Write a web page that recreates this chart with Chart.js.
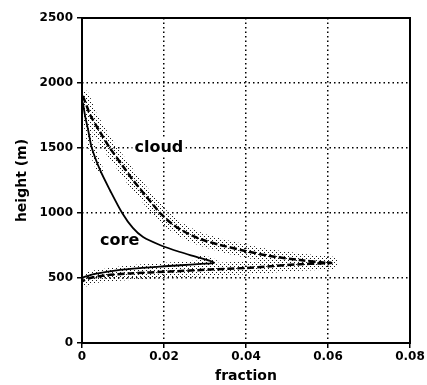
<!DOCTYPE html>
<html>
<head>
<meta charset="utf-8">
<script src="https://cdn.jsdelivr.net/npm/chart.js@4/dist/chart.umd.min.js"></script>
<style>
  html, body { margin: 0; padding: 0; background: #fff; }
  #wrap { width: 427px; height: 385px; }
</style>
</head>
<body>
<div id="wrap"><canvas id="c" width="427" height="385"></canvas></div>
<script>
// Cloud fraction profile: upper branch from the top down to the tip, then the lower branch back to zero
const cloudFraction = [0.0002, 0.0012, 0.002, 0.0044, 0.0068, 0.0098, 0.0124, 0.0154, 0.0178, 0.0195, 0.022, 0.0251, 0.0288, 0.0337, 0.0398, 0.0459, 0.0532, 0.0593, 0.0608,
                       0.058, 0.0532, 0.046, 0.0398, 0.0312, 0.0215, 0.0117, 0.0056, 0.002, 0];
const cloudHeight   = [1900, 1820, 1754, 1623, 1500, 1369, 1254, 1138, 1046, 985, 915, 854, 800, 754, 708, 669, 638, 618, 616,
                       612, 606, 590, 577, 565, 550, 535, 520, 500, 475];

// Core fraction profile, same ordering
const coreFraction = [0.0002, 0.0008, 0.0015, 0.0024, 0.0044, 0.0068, 0.0098, 0.0124, 0.0149, 0.019, 0.0239, 0.0288, 0.0322,
                      0.029, 0.024, 0.019, 0.0093, 0.0032, 0.0008, 0];
const coreHeight   = [1850, 1740, 1638, 1500, 1331, 1177, 1000, 885, 815, 754, 700, 654, 618,
                      609, 598, 588, 562, 532, 510, 500];

const xTicks = [0, 0.02, 0.04, 0.06, 0.08];
const yTicks = [0, 500, 1000, 1500, 2000, 2500];

const curveLabels = ['cloud', 'core'];
const labelAt = [{ x: 0.0128, y: 1500, box: true }, { x: 0.0044, y: 785, box: false }];

const canvas = document.getElementById('c');
const ctx = canvas.getContext('2d');

// Stippled fill used for the uncertainty bands
function stipple() {
  const p = document.createElement('canvas');
  p.width = 4; p.height = 4;
  const g = p.getContext('2d');
  g.fillStyle = '#1a1a1a';
  g.fillRect(0, 0, 1, 1);
  g.fillRect(2, 2, 1, 1);
  return ctx.createPattern(p, 'repeat');
}
const dots = stipple();

const pts = (xs, ys) => xs.map((v, i) => ({ x: v, y: ys[i] }));

const FONT = 'DejaVu Sans';

const framePlugin = {
  id: 'frame',
  afterDatasetsDraw(chart) {
    const { ctx, chartArea: a, scales } = chart;
    ctx.save();
    ctx.strokeStyle = '#000';
    ctx.lineWidth = 2;
    ctx.strokeRect(a.left, a.top, a.right - a.left, a.bottom - a.top);
    ctx.font = 'bold 16px "' + FONT + '"';
    ctx.textBaseline = 'middle';
    ctx.textAlign = 'left';
    curveLabels.forEach((t, i) => {
      const x = scales.x.getPixelForValue(labelAt[i].x);
      const y = scales.y.getPixelForValue(labelAt[i].y);
      const w = ctx.measureText(t).width;
      if (labelAt[i].box) {
        ctx.fillStyle = '#fff';
        ctx.fillRect(x - 2, y - 9, w + 4, 18);
      }
      ctx.fillStyle = '#000';
      ctx.fillText(t, x, y);
    });
    ctx.restore();
  }
};

const gridColor = (edgeA, edgeB) => c =>
  (c.tick && (c.tick.value === edgeA || c.tick.value === edgeB)) ? 'rgba(0,0,0,0)' : '#000';

// the core band only shows near the top and around the tip / lower branch
const coreBandVisible = i => i < 4 || i >= 11;

new Chart(ctx, {
  type: 'scatter',
  data: {
    datasets: [
      { data: pts(cloudFraction, cloudHeight), showLine: true, borderColor: dots, borderWidth: 13,
        borderCapStyle: 'round', borderJoinStyle: 'round', tension: 0.3, pointRadius: 0, order: 3 },
      { data: pts(coreFraction, coreHeight), showLine: true, borderColor: dots, borderWidth: 7,
        borderCapStyle: 'round', borderJoinStyle: 'round', tension: 0.3, pointRadius: 0, order: 3,
        segment: { borderColor: s => coreBandVisible(s.p0DataIndex) ? dots : 'rgba(0,0,0,0)' } },
      { data: pts(cloudFraction, cloudHeight), showLine: true, borderColor: '#000', borderWidth: 2.5,
        borderDash: [7, 3], tension: 0.3, pointRadius: 0, order: 1 },
      { data: pts(coreFraction, coreHeight), showLine: true, borderColor: '#000', borderWidth: 1.8,
        tension: 0.3, pointRadius: 0, order: 1 }
    ]
  },
  options: {
    responsive: false,
    animation: false,
    devicePixelRatio: 1,
    layout: { padding: { top: 18, right: 17, left: 0, bottom: 0 } },
    plugins: { legend: { display: false }, tooltip: { enabled: false } },
    scales: {
      x: {
        type: 'linear', min: 0, max: 0.08,
        afterBuildTicks: s => { s.ticks = xTicks.map(v => ({ value: v })); },
        afterFit: s => { s.height = 42; },
        ticks: {
          color: '#000', padding: 2,
          font: { family: FONT, size: 12, weight: 'bold' },
          callback: v => (v === 0 ? '0' : v.toFixed(2))
        },
        grid: { color: gridColor(0, 0.08), lineWidth: 1.5, tickColor: '#000', tickLength: 5, tickWidth: 1.5, tickBorderDash: [] },
        border: { display: false, dash: [1.5, 3] },
        title: { display: true, text: 'fraction', color: '#000', padding: { top: 0, bottom: 0 },
          font: { family: FONT, size: 14, weight: 'bold' } }
      },
      y: {
        type: 'linear', min: 0, max: 2500,
        afterBuildTicks: s => { s.ticks = yTicks.map(v => ({ value: v })); },
        afterFit: s => { s.width = 82; },
        ticks: {
          color: '#000', padding: 4,
          font: { family: FONT, size: 12, weight: 'bold' },
          callback: v => String(v)
        },
        grid: { color: gridColor(0, 2500), lineWidth: 1.5, tickColor: '#000', tickLength: 5, tickWidth: 1.5, tickBorderDash: [] },
        border: { display: false, dash: [1.5, 3] },
        title: { display: true, text: 'height (m)', color: '#000', padding: { top: 14, bottom: 0 },
          font: { family: FONT, size: 14, weight: 'bold' } }
      }
    }
  },
  plugins: [framePlugin]
});
</script>
</body>
</html>
